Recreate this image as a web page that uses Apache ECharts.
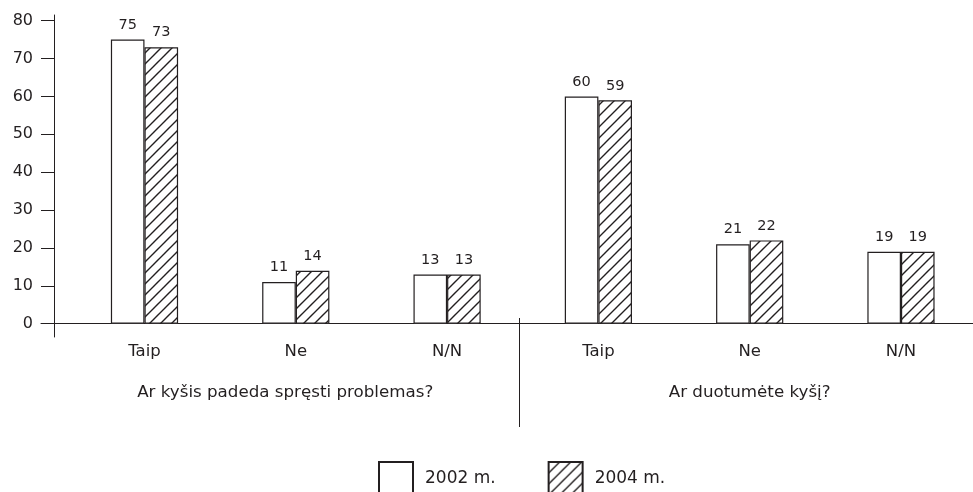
<!DOCTYPE html>
<html>
<head>
<meta charset="utf-8">
<script src="https://cdn.jsdelivr.net/npm/echarts@6/dist/echarts.min.js"></script>
<style>
html,body{margin:0;padding:0;background:#fff;}
#chart{width:973px;height:492px;}
</style>
</head>
<body>
<div id="chart"></div>
<script>
var categories = ['Taip', 'Ne', 'N/N', 'Taip', 'Ne', 'N/N'];
var groups = ['Ar kyšis padeda spręsti problemas?', 'Ar duotumėte kyšį?'];
var seriesNames = ['2002 m.', '2004 m.'];
var values2002 = [75, 11, 13, 60, 21, 19];
var values2004 = [73, 14, 13, 59, 22, 19];
var yTicks = [0, 10, 20, 30, 40, 50, 60, 70, 80];

var INK = '#231f20';
var FONT = 'DejaVu Sans';

function hatch() {
  var s = 11;
  var c = document.createElement('canvas');
  c.width = s; c.height = s;
  var g = c.getContext('2d');
  g.fillStyle = '#fff';
  g.fillRect(0, 0, s, s);
  g.strokeStyle = INK;
  g.lineWidth = 1.4;
  g.beginPath();
  g.moveTo(-2, s + 2); g.lineTo(s + 2, -2);
  g.moveTo(-2, 2); g.lineTo(2, -2);
  g.moveTo(s - 2, s + 2); g.lineTo(s + 2, s - 2);
  g.stroke();
  return c;
}

var catIdx = categories.map(function (c, i) { return i; });
function pairs(arr) { return arr.map(function (v, i) { return [i, v]; }); }

var chart = echarts.init(document.getElementById('chart'), null, {renderer: 'canvas'});
var xMin = -0.684, xMax = 5.476;

chart.setOption({
  animation: false,
  backgroundColor: '#fff',
  textStyle: {fontFamily: FONT, color: INK},
  grid: {left: 41, right: 0, top: 15, bottom: 155, containLabel: false},
  legend: {
    data: seriesNames,
    left: 378, top: 461, padding: 0,
    itemWidth: 34, itemHeight: 34, itemGap: 52,
    icon: 'rect',
    textStyle: {fontFamily: FONT, fontSize: 17, color: INK, padding: [0, 0, 0, 7]}
  },
  xAxis: [{
    type: 'value', min: xMin, max: xMax,
    axisLine: {show: true, onZero: true, lineStyle: {color: INK, width: 1}},
    axisTick: {show: false},
    splitLine: {show: false},
    axisLabel: {
      customValues: catIdx,
      formatter: function (v) { return categories[Math.round(v)]; },
      margin: 6, fontSize: 16.5, color: INK, fontFamily: FONT
    }
  }, {
    type: 'value', min: xMin, max: xMax,
    position: 'bottom', offset: -19,
    axisLine: {show: false, onZero: false},
    axisTick: {show: true, customValues: [2.48], length: 109, lineStyle: {color: INK, width: 1}},
    splitLine: {show: false},
    axisLabel: {
      customValues: [0.93, 4],
      formatter: function (v) { return v < 2.5 ? groups[0] : groups[1]; },
      margin: 66, fontSize: 16.7, color: INK, fontFamily: FONT
    }
  }],
  yAxis: {
    type: 'value', min: -3.5, max: 81.5,
    offset: -13,
    axisLine: {show: true, onZero: false, lineStyle: {color: INK, width: 1}},
    axisTick: {show: true, customValues: yTicks, length: 13, lineStyle: {color: INK, width: 1}},
    splitLine: {show: false},
    axisLabel: {customValues: yTicks, margin: 21, fontSize: 16, color: INK, fontFamily: FONT}
  },
  series: [{
    name: seriesNames[0], type: 'bar', xAxisIndex: 0,
    data: pairs(values2002),
    barWidth: 33.6, barGap: '0%',
    itemStyle: {color: '#fff', borderColor: INK, borderWidth: 1.2},
    label: {show: true, position: 'top', distance: 7, fontSize: 14.5, color: INK, fontFamily: FONT,
      formatter: function (p) { return p.value[1]; }}
  }, {
    name: seriesNames[1], type: 'bar', xAxisIndex: 0,
    data: pairs(values2004),
    barWidth: 33.6, barGap: '0%',
    itemStyle: {color: {image: hatch(), repeat: 'repeat'}, borderColor: INK, borderWidth: 1.2},
    label: {show: true, position: 'top', distance: 7, fontSize: 14.5, color: INK, fontFamily: FONT,
      formatter: function (p) { return p.value[1]; }}
  }]
});
</script>
</body>
</html>
